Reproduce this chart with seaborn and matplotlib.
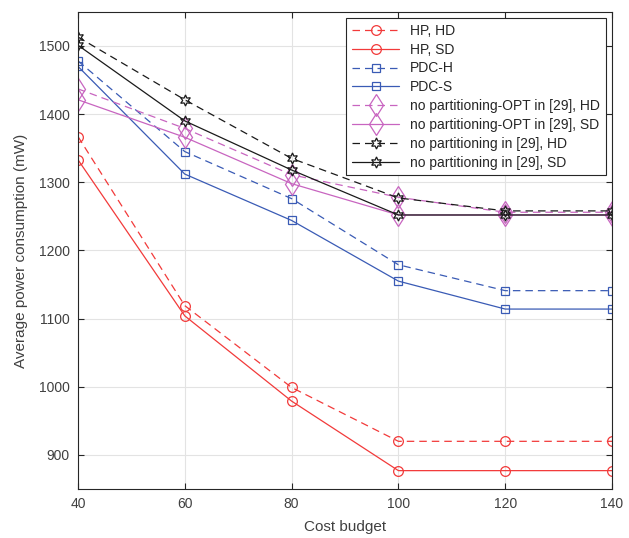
import matplotlib
matplotlib.use("Agg")
import matplotlib.pyplot as plt
import seaborn as sns
import pandas as pd

budget = [40, 60, 80, 100, 120, 140]
hp_hd = [1367, 1119, 999, 920, 920, 920]
hp_sd = [1333, 1104, 979, 877, 877, 877]
pdc_h = [1478, 1345, 1276, 1179, 1141, 1141]
pdc_s = [1470, 1312, 1244, 1155, 1114, 1114]
opt_hd = [1437, 1379, 1311, 1278, 1256, 1256]
opt_sd = [1421, 1366, 1298, 1252, 1252, 1252]
nop_hd = [1513, 1421, 1335, 1277, 1258, 1258]
nop_sd = [1501, 1390, 1318, 1252, 1252, 1252]

labels = ["HP, HD", "HP, SD", "PDC-H", "PDC-S",
          "no partitioning-OPT in [29], HD", "no partitioning-OPT in [29], SD",
          "no partitioning in [29], HD", "no partitioning in [29], SD"]
series = [hp_hd, hp_sd, pdc_h, pdc_s, opt_hd, opt_sd, nop_hd, nop_sd]

red = "#F23A3A"
blue = "#3A5BB5"
mag = "#C865C0"
blk = "#1A1A1A"
styles = [
    (red, "--", "o", 7),
    (red, "-", "o", 7),
    (blue, "--", "s", 5.5),
    (blue, "-", "s", 5.5),
    (mag, "--", "d", 11.5),
    (mag, "-", "d", 11.5),
    (blk, "--", (6, 1, 0), 8),
    (blk, "-", (6, 1, 0), 8),
]

sns.set_style("white")
plt.rcParams["font.family"] = ["Liberation Sans", "DejaVu Sans"]

txt = "#404040"
fig = plt.figure(figsize=(6.29, 5.38), dpi=100)
ax = fig.add_axes([0.124, 0.091, 0.849, 0.887])

for lab, vals, (c, ls, m, ms) in zip(labels, series, styles):
    df = pd.DataFrame({"x": budget, "y": vals})
    sns.lineplot(data=df, x="x", y="y", ax=ax, color=c, linestyle=ls,
                 marker=m, markersize=ms, markerfacecolor="none",
                 markeredgecolor=c, markeredgewidth=0.9, linewidth=0.9,
                 label=lab)
    if ls == "--":
        ax.lines[-1].set_dashes((6, 4))

ax.set_xlim(40, 140)
ax.set_ylim(850, 1550)
ax.set_xticks(budget)
ax.set_yticks([900, 1000, 1100, 1200, 1300, 1400, 1500])
ax.grid(True, color="#E3E3E3", linewidth=0.8)
ax.set_axisbelow(True)
for s in ax.spines.values():
    s.set_color("#262626")
    s.set_linewidth(0.8)
ax.tick_params(direction="in", length=4, width=0.8, colors="#262626",
               labelcolor=txt, labelsize=10, top=True, right=True,
               bottom=True, left=True, pad=6)
ax.set_xlabel("Cost budget", fontsize=11, color=txt, labelpad=6)
ax.set_ylabel("Average power consumption (mW)", fontsize=11, color=txt,
              labelpad=8)

leg = ax.legend(loc="upper right", fontsize=10, frameon=True, fancybox=False,
                edgecolor="#262626", handlelength=3.4, labelspacing=0.35,
                borderpad=0.4, borderaxespad=0.45, framealpha=1)
leg.get_frame().set_linewidth(0.8)
for t in leg.get_texts():
    t.set_color("#262626")

fig.savefig("out.png", dpi=100)
